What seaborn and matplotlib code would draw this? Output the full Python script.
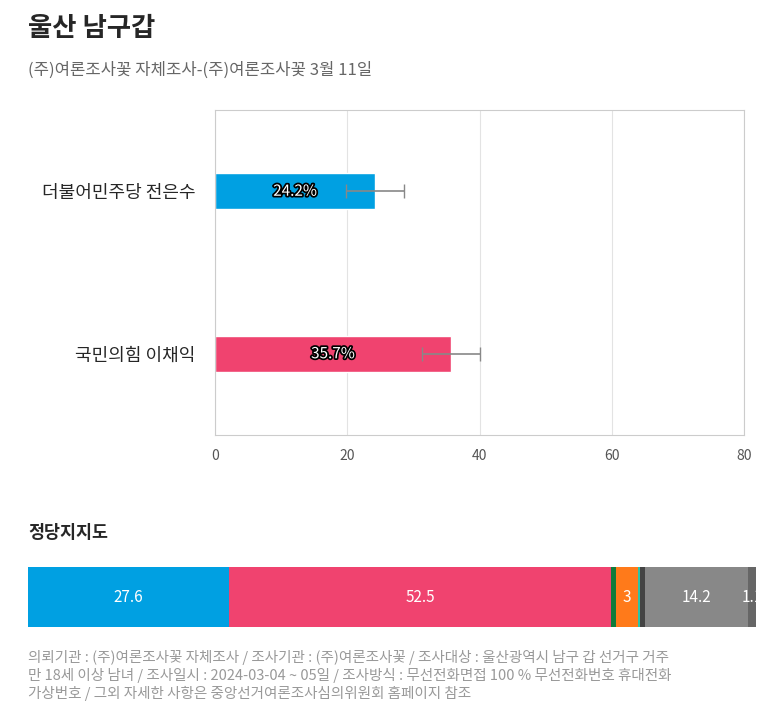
import matplotlib
matplotlib.use("Agg")
import matplotlib.pyplot as plt
import matplotlib.patheffects as pe
import seaborn as sns
import pandas as pd

sns.set_style("white")
plt.rcParams['font.family'] = ['Noto Sans CJK KR', 'DejaVu Sans']

candidates = ["더불어민주당 전은수", "국민의힘 이채익"]
values = [24.2, 35.7]
err = [4.4, 4.4]
cand_colors = ["#00A0E2", "#F0436F"]

party_values = [27.6, 52.5, 0.7, 3.0, 0.2, 0.7, 14.2, 1.1]
party_labels = ["27.6", "52.5", "", "3", "", "", "14.2", "1.1"]
party_colors = ["#00A0E2", "#F0436F", "#0E7B3A", "#FF7A1A", "#2BC4A8", "#444444", "#888888", "#666666"]

W, H = 773, 717
fig = plt.figure(figsize=(W/100, H/100), dpi=100)

ax = fig.add_axes([215/W, 1-435/H, (744-215)/W, (435-110)/H])
df = pd.DataFrame({"c": candidates, "v": values})
sns.barplot(data=df, x="v", y="c", hue="c", palette=cand_colors, width=0.22, ax=ax,
            legend=False, saturation=1)
ax.errorbar(values, range(len(values)), xerr=err, fmt="none", ecolor="#888888", capsize=5, lw=1.2)
for i, v in enumerate(values):
    ax.text(v/2, i, f"{v}%", ha="center", va="center", color="white", fontsize=11,
            path_effects=[pe.withStroke(linewidth=2.5, foreground="black")])
ax.set_xlim(0, 80)
ax.set_ylim(1.5, -0.5)
ax.set_xticks([0, 20, 40, 60, 80])
ax.grid(axis="x", color="#e3e3e3")
ax.set_axisbelow(True)
ax.set_xlabel(""); ax.set_ylabel("")
for s in ax.spines.values():
    s.set_color("#cccccc")
ax.tick_params(axis="x", colors="#555555", labelsize=10, length=0, pad=10)
ax.tick_params(axis="y", labelsize=13, length=0, pad=14)

fig.text(28/W, 1-28/H, "울산 남구갑", fontsize=19, fontweight="bold", va="center")
fig.text(28/W, 1-70/H, "(주)여론조사꽃 자체조사-(주)여론조사꽃 3월 11일", fontsize=12, color="#666666", va="center")
fig.text(28/W, 1-533/H, "정당지지도", fontsize=12.5, fontweight="bold", va="center")

ax2 = fig.add_axes([28/W, 1-627/H, (756-28)/W, 60/H])
left = 0
for v, lab, c in zip(party_values, party_labels, party_colors):
    ax2.barh(0, v, left=left, color=c, height=1, linewidth=0)
    if lab:
        ax2.text(left + v/2, 0, lab, ha="center", va="center", color="white", fontsize=11)
    left += v
ax2.set_xlim(0, 100)
ax2.set_ylim(-0.5, 0.5)
ax2.axis("off")

note = ("의뢰기관 : (주)여론조사꽃 자체조사 / 조사기관 : (주)여론조사꽃 / 조사대상 : 울산광역시 남구 갑 선거구 거주\n"
        "만 18세 이상 남녀 / 조사일시 : 2024-03-04 ~ 05일 / 조사방식 : 무선전화면접 100 % 무선전화번호 휴대전화\n"
        "가상번호 / 그외 자세한 사항은 중앙선거여론조사심의위원회 홈페이지 참조")
fig.text(28/W, 1-650/H, note, fontsize=10.5, color="#999999", va="top", linespacing=1.25)

fig.savefig("out.png", dpi=100)
